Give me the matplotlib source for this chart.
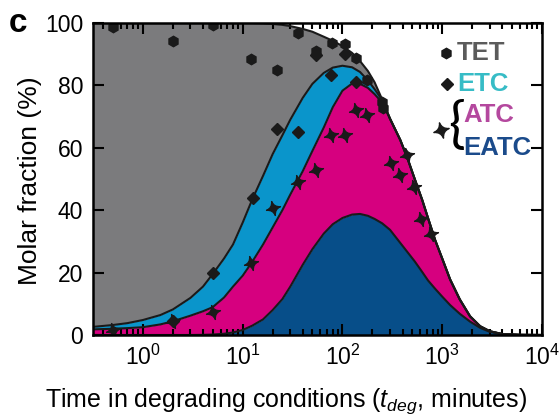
import numpy as np
import matplotlib
matplotlib.use("Agg")
import matplotlib.pyplot as plt
from matplotlib.path import Path
from matplotlib.ticker import LogLocator, FixedLocator, NullFormatter

plt.rcParams['font.family'] = ['Liberation Sans', 'DejaVu Sans']
plt.rcParams['mathtext.fontset'] = 'custom'
plt.rcParams['mathtext.rm'] = 'Liberation Sans'
plt.rcParams['mathtext.it'] = 'Liberation Sans:italic'
plt.rcParams['mathtext.bf'] = 'Liberation Sans:bold'

# ---- model curves: cumulative molar fractions (%) vs degradation time (min)
t_model = [0.316, 0.5, 0.7, 1, 1.5, 2, 3, 4, 5, 6.5, 8, 10, 12.5, 16, 20, 25, 30,
           40, 50, 65, 80, 100, 125, 150, 180, 210, 250, 300, 380, 450, 530, 630,
           720, 850, 1000, 1200, 1500, 1900, 2400, 3000, 4000, 6000, 10000]

# upper edge of TET band (sum of all species)
total_top = [100, 100, 100, 100, 100, 100, 100, 100, 100, 100, 100, 100, 100, 99.9,
             99.7, 99.4, 99.0, 98.1, 97.2, 95.6, 94.3, 92.6, 90.4, 87.8, 84.6, 81.0,
             75.5, 69.3, 62.5, 56.5, 50.0, 43.3, 37.5, 30.4, 24.5, 17.8, 11.4, 6.0,
             2.8, 1.2, 0.3, 0.05, 0.0]
# upper edge of ETC band (ETC + ATC + EATC)
etc_top = [2.6, 3.2, 3.8, 4.8, 6.4, 8.2, 11.9, 15.5, 19.5, 24.5, 29.0, 36.0, 43.5,
           51.0, 58.0, 64.0, 69.0, 76.0, 80.5, 84.0, 85.7, 86.3, 85.8, 84.3, 81.6,
           78.8, 75.3, 69.3, 62.5, 56.5, 50.0, 43.3, 37.5, 30.4, 24.5, 17.8, 11.4,
           6.0, 2.8, 1.2, 0.3, 0.05, 0.0]
# upper edge of ATC band (ATC + EATC)
atc_top = [1.8, 2.0, 2.2, 2.5, 3.4, 4.4, 6.2, 7.6, 8.9, 12.0, 15.5, 19.0, 23.5,
           29.0, 34.5, 40.0, 45.0, 52.5, 59.0, 66.5, 73.0, 78.3, 80.6, 80.5, 79.2,
           77.2, 74.5, 69.3, 62.5, 56.5, 50.0, 43.3, 37.5, 30.4, 24.5, 17.8, 11.4,
           6.0, 2.8, 1.2, 0.3, 0.05, 0.0]
# EATC alone
eatc_top = [0, 0, 0, 0, 0, 0, 0, 0.05, 0.15, 0.4, 0.8, 1.6, 3.0, 5.0, 8.0, 11.5,
            15.5, 22.5, 27.5, 32.5, 35.5, 37.5, 38.6, 38.8, 38.2, 37.2, 35.8, 33.7,
            29.5, 26.5, 23.6, 20.2, 17.5, 14.8, 12.3, 9.6, 6.8, 4.3, 2.3, 1.0, 0.3,
            0.05, 0.0]

# ---- measured points
tet_t = [0.5, 2.0, 5.0, 12, 22, 36, 54, 78, 105, 138, 178, 250, 256]
tet_v = [98.7, 94.2, 99.5, 88.5, 85.0, 96.8, 90.9, 93.6, 93.3, 88.8, 81.7, 74.6, 72.6]

etc_t = [2.0, 5.0, 12.6, 22, 36, 54, 76, 105, 138]
etc_v = [4.5, 20.0, 44.0, 66.0, 65.0, 89.8, 83.3, 90.2, 81.0]

atc_t = [0.5, 2.0, 5.1, 12, 20, 36, 54, 76, 105, 138, 178, 309, 380, 447, 525, 617, 780]
atc_v = [1.5, 4.5, 7.4, 23.0, 40.7, 49.0, 53.0, 64.0, 64.0, 72.0, 70.5, 55.2, 51.3,
         57.8, 47.4, 37.3, 32.5]

c_tet = '#7b7b7d'
c_etc = '#0a95cb'
c_atc = '#d6007f'
c_eatc = '#074e89'


def four_point_star(angle_deg=15):
    tips = [(0, 1), (1, 0), (0, -1), (-1, 0)]
    ctrl = [(0.13, 0.13), (0.13, -0.13), (-0.13, -0.13), (-0.13, 0.13)]
    verts = [tips[0]]
    codes = [Path.MOVETO]
    for i in range(4):
        verts += [ctrl[i], tips[(i + 1) % 4]]
        codes += [Path.CURVE3, Path.CURVE3]
    verts.append(tips[0])
    codes.append(Path.CLOSEPOLY)
    a = np.deg2rad(angle_deg)
    rot = np.array([[np.cos(a), -np.sin(a)], [np.sin(a), np.cos(a)]])
    v = np.array(verts) @ rot.T
    return Path(v, codes)


star = four_point_star()

fig = plt.figure(figsize=(5.6, 4.19), dpi=100)
ax = fig.add_axes([93 / 560, 84 / 419, (542 - 93) / 560, (335 - 23) / 419])

ax.fill_between(t_model, etc_top, total_top, color=c_tet, lw=0)
ax.fill_between(t_model, atc_top, etc_top, color=c_etc, lw=0)
ax.fill_between(t_model, eatc_top, atc_top, color=c_atc, lw=0)
ax.fill_between(t_model, 0, eatc_top, color=c_eatc, lw=0)
for curve in (total_top, etc_top, atc_top, eatc_top):
    ax.plot(t_model, curve, color='#1a1a1a', lw=1.5, solid_joinstyle='round')

ax.plot(tet_t, tet_v, ls='none', marker='h', ms=7.5, color='#1a1a1a', zorder=5)
ax.plot(etc_t, etc_v, ls='none', marker='D', ms=6.2, color='#1a1a1a', zorder=5)
ax.plot(atc_t, atc_v, ls='none', marker=star, ms=10, color='#1a1a1a', zorder=5)

ax.set_xscale('log')
ax.set_xlim(10 ** -0.5, 1e4)
ax.set_ylim(0, 100)
ax.yaxis.set_major_locator(FixedLocator([0, 20, 40, 60, 80, 100]))
ax.xaxis.set_major_locator(LogLocator(base=10, numticks=20))
ax.xaxis.set_minor_locator(LogLocator(base=10, subs=np.arange(2, 10), numticks=20))
ax.xaxis.set_minor_formatter(NullFormatter())

ax.tick_params(which='both', direction='in', top=True, right=True, width=1.5,
               labelsize=16.5, colors='black')
ax.tick_params(which='major', length=8, pad=7)
ax.tick_params(which='minor', length=4)
for s in ax.spines.values():
    s.set_linewidth(1.8)
    s.set_zorder(6)

ax.set_xlabel('Time in degrading conditions ($t_{deg}$, minutes)', fontsize=18)
ax.set_ylabel('Molar fraction (%)', fontsize=19)
ax.xaxis.set_label_coords((286 - 93) / 449, (335 - 401) / 312)
ax.yaxis.set_label_coords((30 - 93) / 449, (335 - 181) / 312)
ax.xaxis.label.set_va('center')
ax.yaxis.label.set_va('center')

fig.text(9 / 560, 1 - 24 / 419, 'c', fontsize=24, fontweight='bold', va='center',
         ha='left')


# key
def fx(px):
    return px / 560


def fy(py):
    return 1 - py / 419


key_font = dict(fontsize=18.5, fontweight='bold', va='center', ha='left')
fig.text(fx(457), fy(53), 'TET', color='#5b5b5b', **key_font)
fig.text(fx(457), fy(84), 'ETC', color='#37bcc6', **key_font)
fig.text(fx(463), fy(115), 'ATC', color='#b4489e', **key_font)
fig.text(fx(463), fy(148), 'EATC', color='#1b4b8b', **key_font)
fig.text(fx(456), fy(127), '{', fontsize=40, fontweight='normal',
         family=['Lato', 'Liberation Sans'], va='center', ha='center', color='black')
kx = fig.add_axes([0, 0, 1, 1], facecolor='none')
kx.set_xlim(0, 560)
kx.set_ylim(419, 0)
kx.axis('off')
kx.plot([446], [53], marker='h', ms=7.5, color='#1a1a1a')
kx.plot([447], [84], marker='D', ms=6.2, color='#1a1a1a')
kx.plot([441], [130], marker=star, ms=11, color='#1a1a1a')

fig.savefig('out.png', dpi=100)
